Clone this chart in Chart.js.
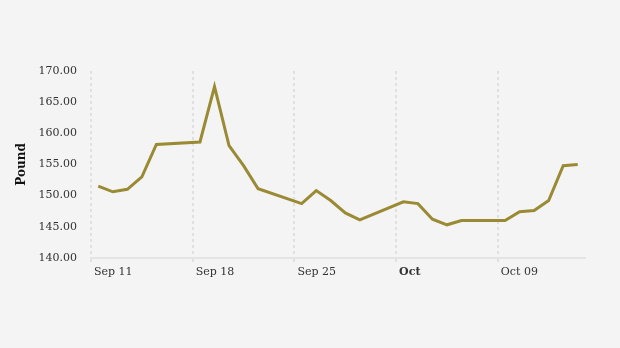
<!DOCTYPE html>
<html>
<head>
<meta charset="utf-8">
<script src="https://cdn.jsdelivr.net/npm/chart.js@4/dist/chart.umd.min.js"></script>
<style>
  html, body { margin: 0; padding: 0; background: #f4f4f4; }
  #wrap { width: 620px; height: 348px; }
</style>
</head>
<body>
<div id="wrap"><canvas id="c" width="620" height="348"></canvas></div>
<script>
// Data
const dates = [
  "2023-09-11","2023-09-12","2023-09-13","2023-09-14","2023-09-15",
  "2023-09-18","2023-09-19","2023-09-20","2023-09-21","2023-09-22",
  "2023-09-25","2023-09-26","2023-09-27","2023-09-28","2023-09-29",
  "2023-10-02","2023-10-03","2023-10-04","2023-10-05","2023-10-06",
  "2023-10-09","2023-10-10","2023-10-11","2023-10-12","2023-10-13","2023-10-14"
];
const prices = [
  151.5, 150.6, 151.0, 153.0, 158.2,
  158.6, 167.5, 158.0, 154.8, 151.1,
  148.7, 150.8, 149.2, 147.2, 146.1,
  149.0, 148.7, 146.2, 145.3, 146.0,
  146.0, 147.4, 147.6, 149.2, 154.8, 155.0
];
const tickDates = ["2023-09-11","2023-09-18","2023-09-25","2023-10-02","2023-10-09"];
const tickLabels = ["Sep 11","Sep 18","Sep 25","Oct","Oct 09"];
const axisStart = "2023-09-11";
const axisEnd = "2023-10-15";
const yTitle = "Pound";

const DAY = 86400000;
const dayOf = s => (Date.parse(s + "T00:00:00Z") - Date.parse(axisStart + "T00:00:00Z")) / DAY;
const points = dates.map((d, i) => ({ x: dayOf(d) + 0.5, y: prices[i] }));
const tickDays = tickDates.map(dayOf);

const FONT = "'DejaVu Serif', serif";

new Chart(document.getElementById('c'), {
  type: 'line',
  data: {
    datasets: [{
      data: points,
      borderColor: '#9a8a33',
      borderWidth: 3,
      pointRadius: 0,
      tension: 0,
      fill: false
    }]
  },
  options: {
    responsive: false,
    animation: false,
    plugins: { legend: { display: false }, tooltip: { enabled: false } },
    layout: { padding: { left: 13, right: 35, top: 71, bottom: 66 } },
    scales: {
      x: {
        type: 'linear',
        min: dayOf(axisStart),
        max: dayOf(axisEnd),
        afterBuildTicks: s => { s.ticks = tickDays.map(v => ({ value: v })); },
        grid: {
          color: '#e0e0e0',
          lineWidth: 2,
          drawTicks: true,
          tickLength: 5,
          tickColor: '#e0e0e0',
          tickWidth: 2,
          tickBorderDash: [3, 3]
        },
        border: { display: true, color: '#e4e4e4', width: 2, dash: [3, 3] },
        ticks: {
          autoSkip: false,
          maxRotation: 0,
          align: 'start',
          labelOffset: 3,
          padding: 3,
          color: '#333',
          font: ctx => ({ family: FONT, size: 11, weight: (ctx.index === 3 ? 'bold' : 'normal') }),
          callback: (v) => {
            const i = tickDays.indexOf(v);
            return i >= 0 ? tickLabels[i] : '';
          }
        }
      },
      y: {
        min: 140,
        max: 170,
        afterFit: s => { s.width = 78; },
        grid: { display: false, drawTicks: false },
        border: { display: false },
        ticks: {
          stepSize: 5,
          padding: 14,
          color: '#333',
          font: { family: FONT, size: 11 },
          callback: v => v.toFixed(2)
        },
        title: {
          display: true,
          text: yTitle,
          color: '#111',
          font: { family: FONT, size: 12, weight: 'bold' },
          padding: { top: 2, bottom: 10 }
        }
      }
    }
  },
  plugins: [{
    id: 'bg',
    beforeDraw: (chart) => {
      const ctx = chart.ctx;
      ctx.save();
      ctx.fillStyle = '#f4f4f4';
      ctx.fillRect(0, 0, chart.width, chart.height);
      ctx.restore();
    }
  }]
});
</script>
</body>
</html>
